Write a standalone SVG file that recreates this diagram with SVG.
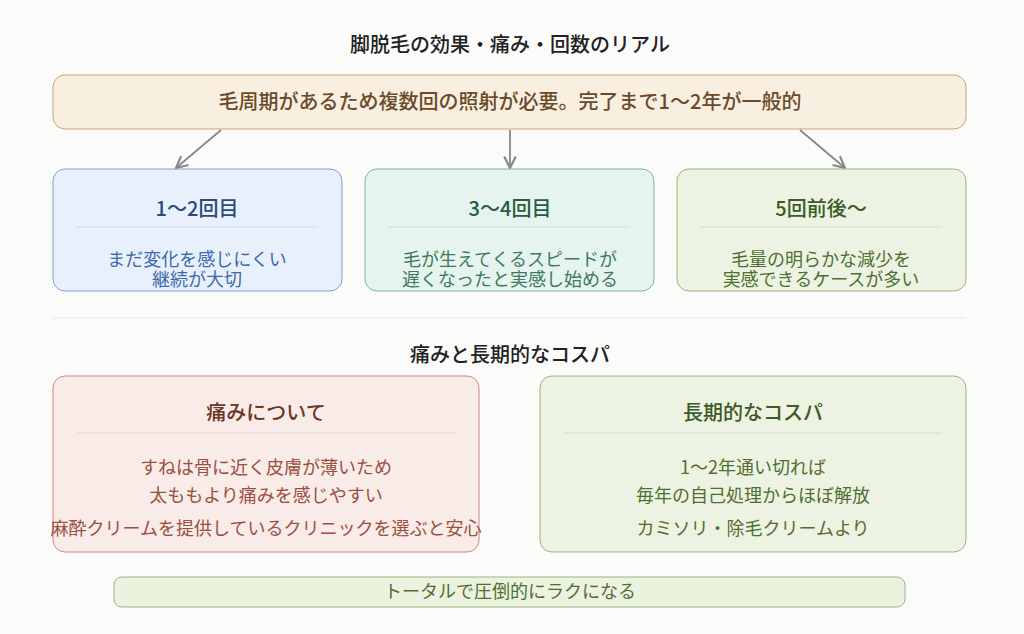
<svg xmlns="http://www.w3.org/2000/svg" width="1024" height="634" viewBox="0 0 1024 634">
<defs>
<marker id="ar" viewBox="0 0 10 10" refX="9" refY="5" markerWidth="8" markerHeight="8" orient="auto"><path d="M1,1 L9,5 L1,9" fill="none" stroke="#888" stroke-width="1.5"/></marker>
</defs>
<style>
text{font-family:"Noto Sans CJK JP","Noto Sans",sans-serif;text-anchor:middle}
.h{font-size:20px;font-weight:500;fill:#222}
.t{font-size:20px;font-weight:500}
.b{font-size:18px}
.sep{stroke:#d8d8d8;stroke-width:1}
</style>
<rect width="1024" height="634" fill="#fbfbfa"/>
<text class="h" x="510" y="52">脚脱毛の効果・痛み・回数のリアル</text>
<g id="top"><rect x="53" y="75" width="913" height="54" rx="12" fill="#f8efe0" stroke="#c9a57c"/><text x="510" y="109" font-size="20" font-weight="500" fill="#6b4a2a">毛周期があるため複数回の照射が必要。完了まで1〜2年が一般的</text></g>
<g id="connectors" stroke="#888" stroke-width="1.8" fill="none">
<line x1="221" y1="130" x2="176" y2="168" marker-end="url(#ar)"/>
<line x1="510" y1="130" x2="510" y2="168" marker-end="url(#ar)"/>
<line x1="800" y1="130" x2="845" y2="168" marker-end="url(#ar)"/>
</g>
<g id="n1"><rect x="53" y="169" width="289" height="122" rx="12" fill="#e8f0fb" stroke="#7fa0cf"/><text class="t" x="197" y="216" fill="#2a4a7a">1〜2回目</text><line class="sep" x1="77" y1="227" x2="318" y2="227"/><text class="b" x="197" y="266" fill="#3d6aaa">まだ変化を感じにくい</text><text class="b" x="197" y="286" fill="#3d6aaa">継続が大切</text></g>
<g id="n2"><rect x="365" y="169" width="289" height="122" rx="12" fill="#e5f4ee" stroke="#7fb59a"/><text class="t" x="510" y="216" fill="#2a5a40">3〜4回目</text><line class="sep" x1="389" y1="227" x2="630" y2="227"/><text class="b" x="510" y="266" fill="#3d7a5a">毛が生えてくるスピードが</text><text class="b" x="510" y="286" fill="#3d7a5a">遅くなったと実感し始める</text></g>
<g id="n3"><rect x="677" y="169" width="289" height="122" rx="12" fill="#edf3e2" stroke="#98b77a"/><text class="t" x="821" y="216" fill="#3d5a25">5回前後〜</text><line class="sep" x1="701" y1="227" x2="942" y2="227"/><text class="b" x="821" y="266" fill="#4d7030">毛量の明らかな減少を</text><text class="b" x="821" y="286" fill="#4d7030">実感できるケースが多い</text></g>
<line x1="53" y1="318" x2="966" y2="318" stroke="#e6e6e6"/>
<text class="h" x="510" y="362">痛みと長期的なコスパ</text>
<g id="n4"><rect x="53" y="376" width="426" height="176" rx="12" fill="#f9ebe8" stroke="#c98a7c"/><text class="t" x="266" y="420" fill="#6b3525">痛みについて</text><line class="sep" x1="77" y1="433" x2="455" y2="433"/><text class="b" x="266" y="474" fill="#9a5040">すねは骨に近く皮膚が薄いため</text><text class="b" x="266" y="502" fill="#9a5040">太ももより痛みを感じやすい</text><text class="b" x="266" y="535" fill="#9a5040">麻酔クリームを提供しているクリニックを選ぶと安心</text></g>
<g id="n5"><rect x="540" y="376" width="426" height="176" rx="12" fill="#edf3e2" stroke="#98b77a"/><text class="t" x="753" y="420" fill="#3d5a25">長期的なコスパ</text><line class="sep" x1="564" y1="433" x2="942" y2="433"/><text class="b" x="753" y="474" fill="#4d7030">1〜2年通い切れば</text><text class="b" x="753" y="502" fill="#4d7030">毎年の自己処理からほぼ解放</text><text class="b" x="753" y="535" fill="#4d7030">カミソリ・除毛クリームより</text></g>
<g id="n6"><rect x="114" y="577" width="791" height="30" rx="8" fill="#ebf2e0" stroke="#98b77a"/><text class="b" x="510" y="598" fill="#4d7030">トータルで圧倒的にラクになる</text></g>
</svg>
